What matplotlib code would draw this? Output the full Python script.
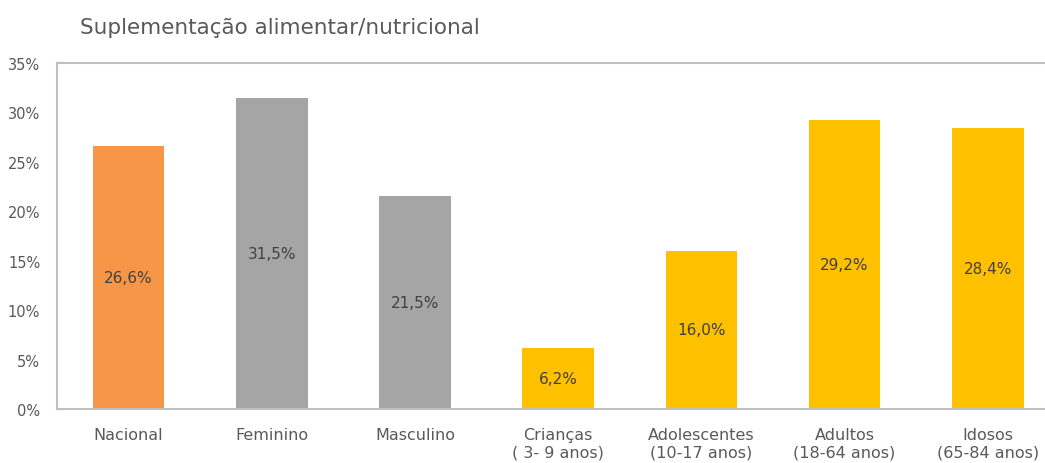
import matplotlib
matplotlib.use('Agg')
import matplotlib.pyplot as plt
from matplotlib.ticker import FuncFormatter

categories = ['Nacional', 'Feminino', 'Masculino', 'Crianças\n( 3- 9 anos)',
              'Adolescentes\n(10-17 anos)', 'Adultos\n(18-64 anos)', 'Idosos\n(65-84 anos)']
values = [26.6, 31.5, 21.5, 6.2, 16.0, 29.2, 28.4]
colors = ['#F79646', '#A5A5A5', '#A5A5A5', '#FFC000', '#FFC000', '#FFC000', '#FFC000']

text_color = '#595959'
plt.rcParams['font.family'] = ['DejaVu Sans']

fig = plt.figure(figsize=(10.45, 4.64), dpi=100)
ax = fig.add_axes([0.0545, 0.1164, 0.9455, 0.7456])

x = range(len(categories))
bars = ax.bar(x, values, width=0.5, color=colors)

# value labels in the middle of each bar
for xi, v in zip(x, values):
    ax.text(xi, v / 2, f'{v:.1f}%'.replace('.', ','), ha='center', va='center',
            fontsize=11, color='#404040')

ax.set_xlim(-0.5, 6.4)
ax.set_ylim(0, 35)
ax.set_yticks(range(0, 36, 5))
ax.yaxis.set_major_formatter(FuncFormatter(lambda v, p: f'{int(v)}%'))
ax.set_xticks(list(x))
ax.set_xticklabels(categories, fontsize=11.5, color=text_color, linespacing=1.2)
ax.tick_params(axis='y', labelsize=10.5, labelcolor=text_color, length=0, pad=12)
ax.tick_params(axis='x', length=0, pad=13)

for side in ['left', 'bottom', 'top']:
    ax.spines[side].set_color('#BFBFBF')
    ax.spines[side].set_linewidth(1.5)
ax.spines['right'].set_visible(False)

fig.text(80 / 1045, 1 - 28 / 464, 'Suplementação alimentar/nutricional', fontsize=15.5,
         color=text_color, va='center', ha='left')

fig.savefig('out.png', dpi=100)
